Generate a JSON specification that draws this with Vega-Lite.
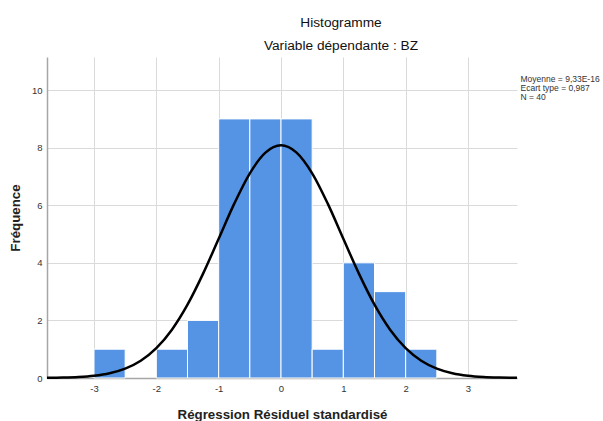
{
  "$schema": "https://vega.github.io/schema/vega-lite/v6.json",
  "autosize": {"type": "none"},
  "width": 470,
  "height": 321,
  "padding": {"left": 47, "top": 57, "right": 86, "bottom": 43},
  "background": "white",
  "config": {
    "font": "Liberation Sans",
    "view": {"stroke": null},
    "axis": {"gridColor": "#DADADA", "gridWidth": 1, "domainColor": "#A6A6A6", "domainWidth": 1.5, "ticks": false, "labelFont": "Liberation Sans", "labelFontSize": 9.5, "labelColor": "#333333", "titleFont": "Liberation Sans", "titleFontSize": 13.3, "titleFontWeight": "bold", "titleColor": "#222222"}
  },
  "title": {
    "text": "Histogramme",
    "subtitle": "Variable dépendante : BZ",
    "anchor": "middle",
    "frame": "group",
    "dx": 59,
    "offset": 4,
    "fontSize": 13.7,
    "fontWeight": "normal",
    "color": "#111111",
    "subtitleFontSize": 13.7,
    "subtitleColor": "#111111",
    "subtitlePadding": 10
  },
  "datasets": {
    "bins": [
      {"start": -3.0, "end": -2.5, "count": 1},
      {"start": -2.0, "end": -1.5, "count": 1},
      {"start": -1.5, "end": -1.0, "count": 2},
      {"start": -1.0, "end": -0.5, "count": 9},
      {"start": -0.5, "end": 0.0, "count": 9},
      {"start": 0.0, "end": 0.5, "count": 9},
      {"start": 0.5, "end": 1.0, "count": 1},
      {"start": 1.0, "end": 1.5, "count": 4},
      {"start": 1.5, "end": 2.0, "count": 3},
      {"start": 2.0, "end": 2.5, "count": 1}
    ],
    "curve": [
      {"x": -3.754, "y": 0.0055},
      {"x": -3.5, "y": 0.0150},
      {"x": -3.25, "y": 0.0358},
      {"x": -3.0, "y": 0.0797},
      {"x": -2.75, "y": 0.1667},
      {"x": -2.5, "y": 0.3270},
      {"x": -2.25, "y": 0.6015},
      {"x": -2.0, "y": 1.038},
      {"x": -1.75, "y": 1.679},
      {"x": -1.5, "y": 2.547},
      {"x": -1.25, "y": 3.625},
      {"x": -1.0, "y": 4.838},
      {"x": -0.75, "y": 6.057},
      {"x": -0.5, "y": 7.111},
      {"x": -0.25, "y": 7.829},
      {"x": 0.0, "y": 8.084},
      {"x": 0.25, "y": 7.829},
      {"x": 0.5, "y": 7.111},
      {"x": 0.75, "y": 6.057},
      {"x": 1.0, "y": 4.838},
      {"x": 1.25, "y": 3.625},
      {"x": 1.5, "y": 2.547},
      {"x": 1.75, "y": 1.679},
      {"x": 2.0, "y": 1.038},
      {"x": 2.25, "y": 0.6015},
      {"x": 2.5, "y": 0.3270},
      {"x": 2.75, "y": 0.1667},
      {"x": 3.0, "y": 0.0797},
      {"x": 3.25, "y": 0.0358},
      {"x": 3.5, "y": 0.0150},
      {"x": 3.786, "y": 0.0052}
    ],
    "stats": [
      {"stat": "Moyenne = 9,33E-16"},
      {"stat": "Ecart type = 0,987"},
      {"stat": "N = 40"}
    ]
  },
  "layer": [
    {
      "data": {"name": "bins"},
      "mark": {"type": "bar", "color": "#5594E4", "stroke": "white", "strokeWidth": 1},
      "encoding": {
        "x": {"field": "start", "type": "quantitative", "scale": {"domain": [-3.754, 3.786], "nice": false, "zero": false}, "axis": {"values": [-3, -2, -1, 0, 1, 2, 3], "labelExpr": "'' + datum.value", "title": "Régression Résiduel standardisé", "titlePadding": 15, "labelPadding": 5, "grid": true}},
        "x2": {"field": "end"},
        "y": {"field": "count", "type": "quantitative", "scale": {"domain": [0, 11.15], "nice": false}, "axis": {"values": [0, 2, 4, 6, 8, 10], "labelExpr": "'' + datum.value", "title": "Fréquence", "titlePadding": 9, "labelPadding": 5, "grid": true}},
        "y2": {"datum": 0}
      }
    },
    {
      "data": {"name": "curve"},
      "mark": {"type": "line", "color": "black", "strokeWidth": 2.5, "interpolate": "monotone"},
      "encoding": {
        "x": {"field": "x", "type": "quantitative"},
        "y": {"field": "y", "type": "quantitative"}
      }
    },
    {
      "data": {"name": "stats"},
      "mark": {"type": "point", "opacity": 0},
      "encoding": {
        "color": {"field": "stat", "type": "nominal", "scale": {"domain": ["Moyenne = 9,33E-16", "Ecart type = 0,987", "N = 40"], "range": ["#333333", "#333333", "#333333"]}, "legend": {"title": null, "orient": "none", "legendX": 465, "legendY": 18, "symbolSize": 0, "symbolOpacity": 0, "symbolStrokeWidth": 0, "labelOffset": 0, "labelFontSize": 8.5, "labelColor": "#333333", "labelLimit": 200, "rowPadding": -0.5, "padding": 0}}
      }
    }
  ]
}
